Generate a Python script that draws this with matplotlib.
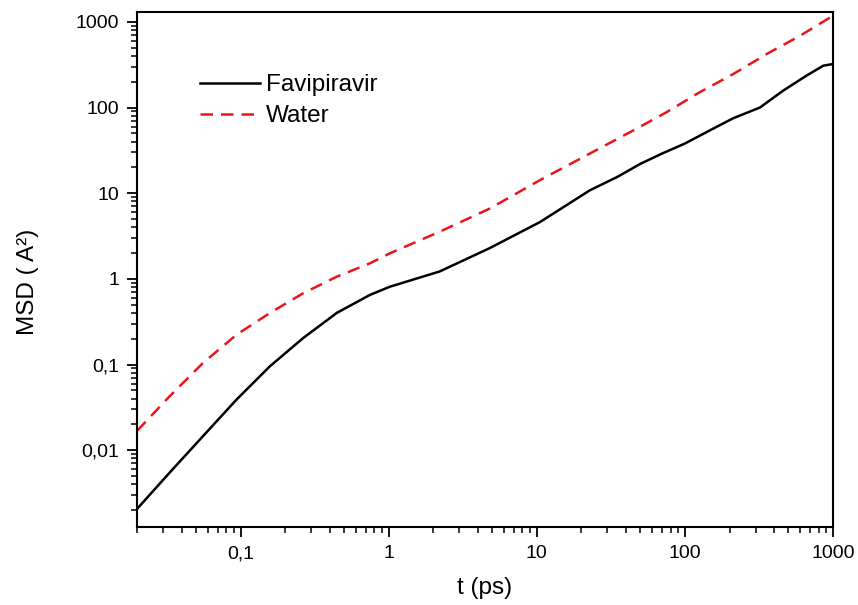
import matplotlib
matplotlib.use("Agg")
import matplotlib.pyplot as plt
from matplotlib.ticker import FixedLocator, FuncFormatter, LogLocator, NullFormatter

plt.rcParams['font.family'] = ['Liberation Sans', 'DejaVu Sans']

# MSD curves (t in ps, MSD in A^2)
t_fav = [0.02, 0.0333, 0.056, 0.094, 0.158, 0.265, 0.446, 0.748, 1.02, 2.21, 4.8, 10.5,
         22.8, 35, 50, 70, 100, 150, 212, 321, 462, 663, 860, 1000]
msd_fav = [0.00206, 0.0055, 0.0147, 0.039, 0.0955, 0.204, 0.40, 0.65, 0.81, 1.22, 2.28, 4.6,
           10.8, 15.5, 22, 29, 38, 55, 75, 100, 158, 236, 308, 322]

t_wat = [0.02, 0.0333, 0.056, 0.094, 0.158, 0.265, 0.446, 0.748, 1.02, 2.21, 4.8, 10.5,
         22.8, 44.8, 75, 126, 212, 356, 598, 1000]
msd_wat = [0.0168, 0.0428, 0.105, 0.223, 0.40, 0.68, 1.06, 1.52, 1.99, 3.55, 6.6, 14.2,
           29, 54, 88, 151, 246, 421, 687, 1180]

y_ticks = [0.01, 0.1, 1, 10, 100, 1000]
x_ticks = [0.1, 1, 10, 100, 1000]


def comma_fmt(v, pos):
    s = ('%g' % v)
    return s.replace('.', ',')


fig = plt.figure(figsize=(8.58, 6.05), dpi=100)
ax = fig.add_axes([0.1597, 0.129, 0.8112, 0.851])

ax.plot(t_fav, msd_fav, color='black', lw=1.8, label='Favipiravir')
ax.plot(t_wat, msd_wat, color='#e8161b', lw=1.8, dashes=(5, 3.2), label='Water')

ax.set_xscale('log')
ax.set_yscale('log')
ax.set_xlim(0.02, 1000)
ax.set_ylim(0.00127, 1300)

ax.xaxis.set_major_locator(FixedLocator(x_ticks))
ax.yaxis.set_major_locator(FixedLocator(y_ticks))
ax.xaxis.set_major_formatter(FuncFormatter(comma_fmt))
ax.yaxis.set_major_formatter(FuncFormatter(comma_fmt))
ax.xaxis.set_minor_locator(LogLocator(base=10, subs=range(2, 10), numticks=20))
ax.yaxis.set_minor_locator(LogLocator(base=10, subs=range(2, 10), numticks=20))
ax.xaxis.set_minor_formatter(NullFormatter())
ax.yaxis.set_minor_formatter(NullFormatter())

for side in ax.spines:
    ax.spines[side].set_linewidth(1.5)
ax.tick_params(which='major', direction='out', length=7, width=1.3, labelsize=14,
               top=False, right=False, pad=6)
ax.tick_params(which='minor', direction='out', length=4, width=1.1,
               top=False, right=False)

ax.set_xlabel('t (ps)', fontsize=17.5, labelpad=11)
ax.set_ylabel('MSD ( A²)', fontsize=17.5)
ax.yaxis.set_label_coords(-0.141, 0.476)

ax.legend(loc='upper left', bbox_to_anchor=(0.059, 0.922), frameon=False, fontsize=17.5,
          handlelength=2.47, handletextpad=0.25, labelspacing=0.38)

fig.savefig('out.png', dpi=100)
